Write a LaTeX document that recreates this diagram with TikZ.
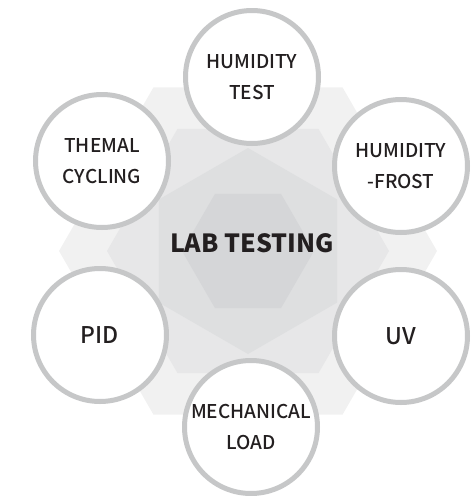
\documentclass[tikz,border=0pt]{standalone}
\usepackage{fontspec}
\setmainfont{Noto Sans CJK KR}
\newfontfamily\medfont{Noto Sans CJK KR}[UprightFont={* Medium}]
\usepackage{xcolor}
\usetikzlibrary{positioning}

\definecolor{ringgray}{HTML}{C6C7C8}
\definecolor{txtdark}{HTML}{231F20}
\definecolor{hexA}{HTML}{F1F1F1}
\definecolor{hexB}{HTML}{E7E7E8}
\definecolor{hexC}{HTML}{DEDFE0}
\definecolor{hexD}{HTML}{D5D6D8}

\begin{document}
\begin{tikzpicture}[x=1pt, y=-1pt,
  testring/.style={circle, draw=ringgray, line width=5pt, fill=white,
     minimum size=133pt, inner sep=0pt, align=center, text=txtdark,
     font=\medfont\fontsize{19}{31}\selectfont},
  bigring/.style={testring, font=\medfont\fontsize{23}{28}\selectfont},
  hubtext/.style={text=txtdark, font=\fontsize{25}{30}\selectfont\bfseries}]
\useasboundingbox (0,0) rectangle (471,496);

% background hexagons
\begin{scope}[shift={(248,251)}]
\fill[hexA] (0:189) -- (60:189) -- (120:189) -- (180:189) -- (240:189) -- (300:189) -- cycle;
\fill[hexB] (0:141) -- (60:141) -- (120:141) -- (180:141) -- (240:141) -- (300:141) -- cycle;
\fill[hexC] (30:103) -- (90:103) -- (150:103) -- (210:103) -- (270:103) -- (330:103) -- cycle;
\fill[hexD] (0:66) -- (60:66) -- (120:66) -- (180:66) -- (240:66) -- (300:66) -- cycle;
\end{scope}

\node[hubtext] (lab) at (252,243) {LAB TESTING};

% test circles
\node[testring] (humtest) at (252,77) {HUMIDITY\\TEST};
\node[testring] (thermal) at (102,161) {THEMAL\\CYCLING};
\node[testring] (frost) at (401,166) {HUMIDITY\\-FROST};
\node[bigring] (pid) at (100,335) {PID};
\node[bigring] (uv) at (401,336) {UV};
\node[testring] (mech) at (251,427) {MECHANICAL\\LOAD};
\end{tikzpicture}
\end{document}
